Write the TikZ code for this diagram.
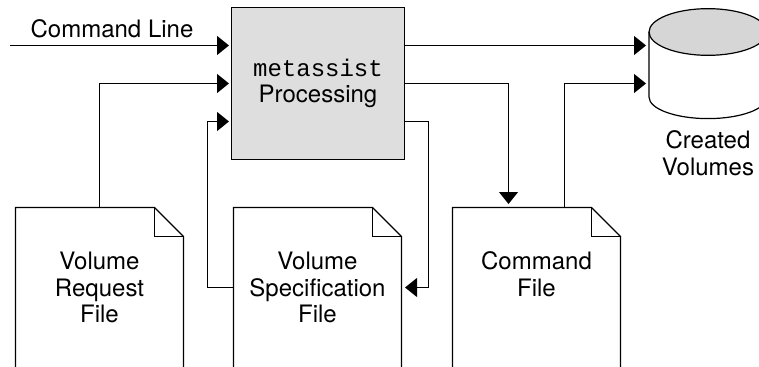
\documentclass[tikz,border=0pt]{standalone}
\usepackage{fontspec}
\setmainfont{TeX Gyre Heros}
\setmonofont{Liberation Mono}
\usetikzlibrary{arrows.meta}
\usetikzlibrary{positioning, shapes.geometric}
\definecolor{boxgray}{HTML}{DEDEDE}
\definecolor{diskgray}{HTML}{D6D6D6}
\tikzset{
    docnode/.style={minimum width=126pt, minimum height=120pt, inner sep=0pt, outer sep=0pt, align=center},
    docedge/.style={draw=black, line width=.9pt},
}
\newcommand{\docoutline}[1]{%
    \draw [docedge] (#1.south west) -- (#1.north west) -- ([xshift=-21.75pt]#1.north east)
        -- ([yshift=-21.75pt]#1.north east) -- (#1.south east);
    \draw [docedge] ([xshift=-21.75pt]#1.north east) -- ([xshift=-21.75pt,yshift=-21.75pt]#1.north east)
        -- ([yshift=-21.75pt]#1.north east);
}
\begin{document}
\begin{tikzpicture}[x=.75pt, y=-.75pt, font=\fontsize{18}{19.9}\selectfont]
    
        \useasboundingbox (0,0) rectangle (759,367);
        \clip (0,0) rectangle (759,367);
    
        % the documents along the bottom, the fold is drawn afterwards
        \begin{scope}[every node/.style={docnode}]
        \node (request) at (99.5,287.5) {Volume\\Request\\File};
        \node (spec) at (317.5,287.5) {Volume\\Specification\\File};
        \node (cmdfile) at (536.5,287.5) {Command\\File\\~};
        \end{scope}
        \docoutline{request}
        \docoutline{spec}
        \docoutline{cmdfile}
    
        % processing box
        \node (proc) [draw=black, line width=.9pt, fill=boxgray, minimum width=129.75pt, minimum height=114pt,
            align=center, inner sep=0pt, outer sep=0pt] at (318,83.5) {{\ttfamily metassist}\\Processing};
    
        % disk
        \node (disk) [ellipse, draw=black, line width=.9pt, fill=diskgray, minimum width=88.5pt, minimum height=35pt,
            inner sep=0pt, outer sep=0pt] at (708,32) {};
        \draw [line width=.9pt] (disk.west) -- ++(0,65) arc[start angle=180, end angle=360, x radius=44.25pt, y radius=16.2pt]
            -- (disk.east);
    
        % labels
        \node (cmdline) at (112,29) {Command Line};
        \node (created) [align=center] at (708,153) {Created\\Volumes};
    
        % free ends, bends and the places where the arrows stop
        \coordinate (start) at (10,45.5);
        \coordinate (in1) at (229,45.5);
        \coordinate (in2) at (229,83.5);
        \coordinate (in3) at (229,121.5);
        \coordinate (out1) at (proc.east |- in1);
        \coordinate (out2) at (proc.east |- in2);
        \coordinate (out3) at (proc.east |- in3);
        \coordinate (diskin1) at (646,45.5);
        \coordinate (diskin2) at (646,83.5);
        \coordinate (specleft) at (spec.west |- 0,287.5);
        \coordinate (specright) at (405,287.5);
        \coordinate (bendleft) at (207.5,287.5);
        \coordinate (bendright) at (428.5,121.5);
        \coordinate (cmdin) at (508.5,204);
        \coordinate (cmdout) at (564.5,207.5);
    
        % connectors
        \begin{scope}[>={Triangle[length=9pt, width=14.2pt, black]},
                  every path/.style={draw=black, line width=.9pt}]
        \draw [->] (start) -- (in1);
        \draw [->] (request.north) |- (in2);
        \draw [->] (specleft) -- (bendleft) |- (in3);
        \draw [->] (out1) -- (diskin1);
        \draw [->] (out2) -| (cmdin);
        \draw [->] (out3) -- (bendright) |- (specright);
        \draw [->] (cmdout) |- (diskin2);
        \end{scope}
    
        \end{tikzpicture}
\end{document}
